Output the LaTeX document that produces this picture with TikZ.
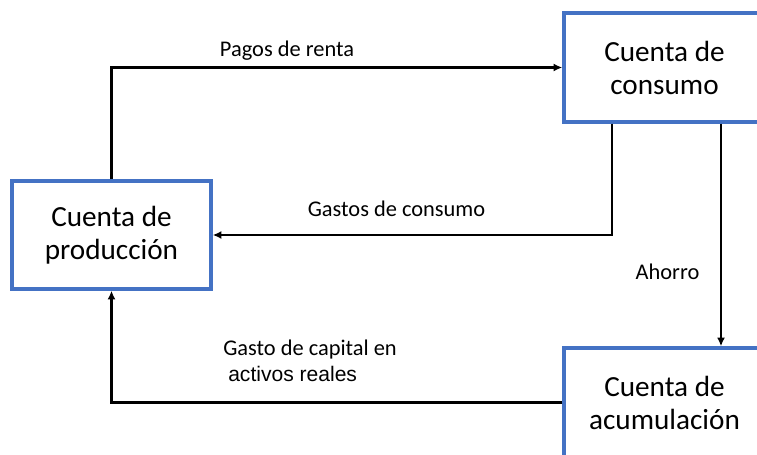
\documentclass[tikz,border=0pt]{standalone}
\usepackage{fontspec}
\setmainfont{Carlito}
\newfontfamily\arialfont{Liberation Sans}
\usetikzlibrary{arrows.meta}
\definecolor{boxblue}{HTML}{4472C4}
\begin{document}
\begin{tikzpicture}[x=0.75pt,y=-0.75pt,
  acct/.style={draw=boxblue, line width=2.6pt, fill=white, align=center,
    font=\fontsize{21.9}{24.75}\selectfont, inner sep=0pt},
  flow/.style={line width=1.6pt, -{Latex[length=6.5pt,width=6pt]}},
  lbl/.style={font=\fontsize{16.8}{20}\selectfont, inner sep=0pt}]
\useasboundingbox (0,0) rectangle (757,454);
\clip (0,0) rectangle (757,454);
\fill[white] (0,0) rectangle (757,454);
% accounts
\node[acct, minimum width=149.25pt, minimum height=81pt] (prod) at (111.5,235) {Cuenta de\\producción};
\node[acct, minimum width=150.75pt, minimum height=81.75pt] (cons) at (664.5,67.5) {Cuenta de\\consumo};
\node[acct, minimum width=150.75pt, minimum height=81.75pt] (acum) at (664.5,402.5) {Cuenta de\\acumulación};
% helper coordinates
\coordinate (gx) at (612,0);
\coordinate (ax) at (721,0);
% flows
\draw[flow] (prod.north) |- (cons.west);
\draw[flow] (cons.south -| gx) |- (prod.east);
\draw[flow] (cons.south -| ax) -- (acum.north -| ax);
\draw[flow] (acum.west) -| (prod.south);
% labels
\node[lbl, anchor=base] (lpagos) at (287,56) {Pagos de renta};
\node[lbl, anchor=base] (lgastos) at (396.5,216) {Gastos de consumo};
\node[lbl, anchor=base] (lahorro) at (667.5,279) {Ahorro};
\node[lbl, anchor=base west] (lcap1) at (223,355) {Gasto de capital en};
\node[lbl, anchor=base west, font=\arialfont\fontsize{15.8}{19}\selectfont] (lcap2) at (228,381) {activos reales};
\end{tikzpicture}
\end{document}
